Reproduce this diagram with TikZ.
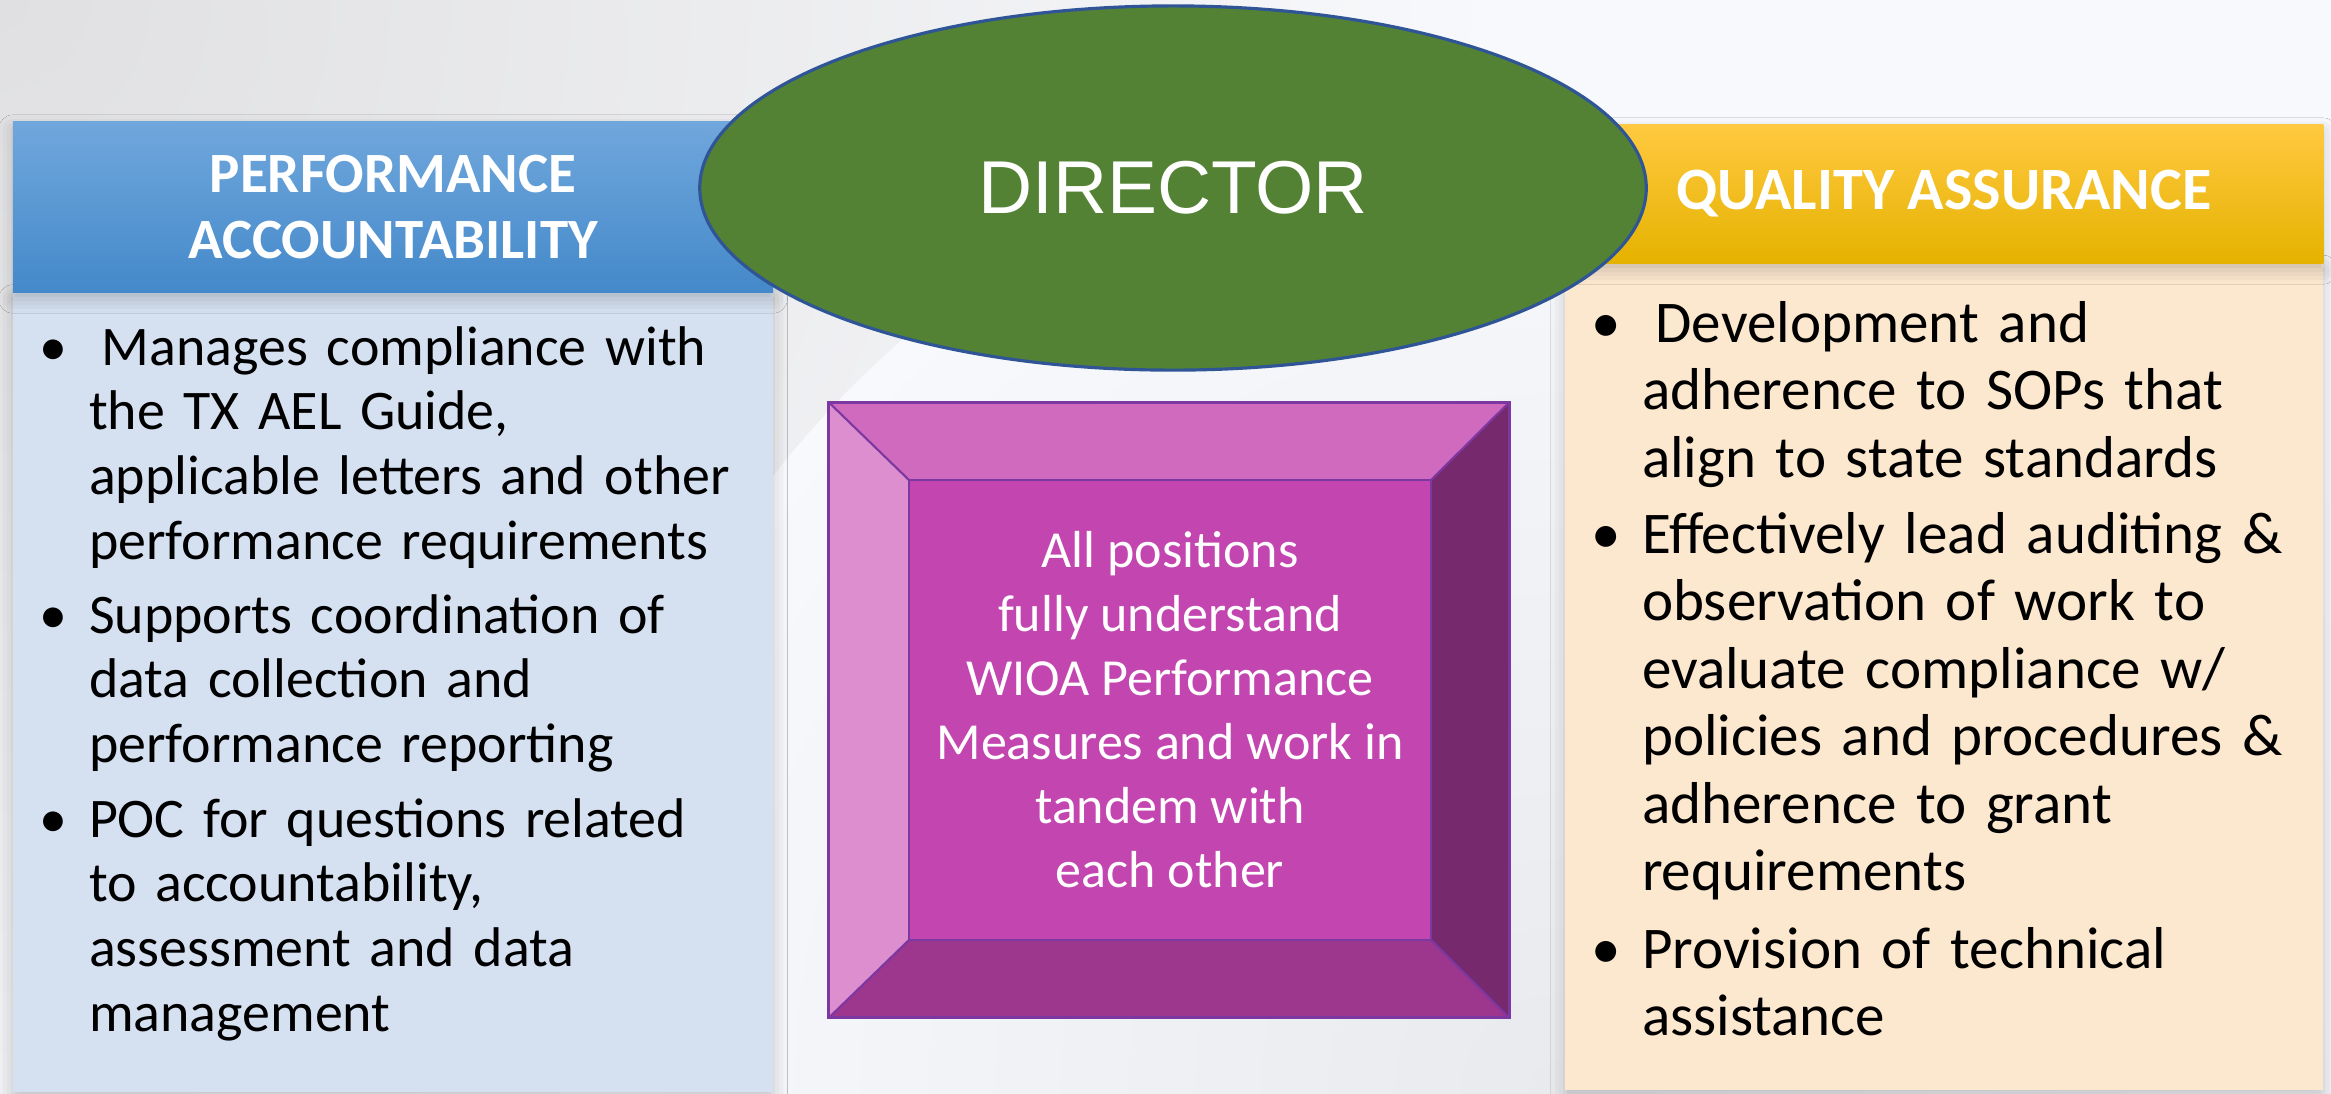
\documentclass[tikz,border=0pt]{standalone}
\usepackage{fontspec}
\setmainfont{Carlito}
\newfontfamily\arialfont{Liberation Sans}
\usetikzlibrary{shapes.geometric,shadings,shadows.blur}

\definecolor{bgcorner}{RGB}{224,224,226}
\definecolor{bgpale}{RGB}{248,249,252}
\definecolor{bglow}{RGB}{232,234,238}
\definecolor{paTop}{RGB}{112,167,220}
\definecolor{paMid}{RGB}{86,152,216}
\definecolor{paBot}{RGB}{68,137,202}
\definecolor{paBody}{RGB}{213,224,240}
\definecolor{qaTop}{RGB}{255,201,64}
\definecolor{qaMid}{RGB}{255,192,0}
\definecolor{qaBot}{RGB}{229,178,0}
\definecolor{qaBody}{RGB}{252,231,207}
\definecolor{dirGreen}{RGB}{84,130,53}
\definecolor{dirEdge}{RGB}{47,85,151}
\definecolor{plFace}{RGB}{195,69,176}
\definecolor{plTop}{RGB}{208,106,190}
\definecolor{plLeft}{RGB}{220,142,206}
\definecolor{plBottom}{RGB}{157,54,141}
\definecolor{plRight}{RGB}{118,41,108}
\definecolor{plEdge}{RGB}{125,55,160}

\tikzset{
  panel/.style={rectangle, draw=none,
    blur shadow={shadow xshift=0pt, shadow yshift=-2pt,
      shadow blur radius=4pt, shadow opacity=20}},
  header/.style={panel, text=white, align=center},
  paItem/.style={anchor=base west, text width=7cm, align=left,
    font=\fontsize{15.9}{18.4}\selectfont},
  qaItem/.style={anchor=base west, text width=7cm, align=left,
    font=\fontsize{16.8}{19.2}\selectfont},
  paDot/.style={anchor=base, font=\fontsize{15.9}{18.4}\selectfont},
  qaDot/.style={anchor=base, font=\fontsize{16.8}{19.2}\selectfont}
}

\begin{document}
\begin{tikzpicture}[x=0.01cm, y=-0.01cm,
  every node/.style={inner sep=0pt, outer sep=0pt}]

\useasboundingbox (0,0) rectangle (2331,1093);

% slide background, greyer in the top left corner
\fill[bgpale] (0,0) rectangle (2331,1093);
\begin{scope}
  \clip (0,0) rectangle (2331,1093);
  \shade[inner color=bgcorner, outer color=bgpale] (0,0) circle (1500);
  \shade[inner color=bglow, outer color=bgpale] (1560,1093) circle (1000);
\end{scope}

% ----------------------
% Side columns
% ----------------------
\node[
  panel, fill=paBody,
  minimum width=7.6cm,
  minimum height=8.0cm
] (paBody) at (393,692) {};

\node[
  panel, fill=qaBody,
  minimum width=7.58cm,
  minimum height=8.27cm
] (qaBody) at (1944,676) {};

\node[
  header,
  top color=paTop, middle color=paMid, bottom color=paBot,
  minimum width=7.6cm,
  minimum height=1.7cm,
  font=\bfseries\fontsize{16.2}{18.5}\selectfont
] (paHead) at (393,207)
{PERFORMANCE\\ACCOUNTABILITY};

\node[
  header,
  top color=qaTop, middle color=qaMid, bottom color=qaBot,
  minimum width=7.58cm,
  minimum height=1.38cm,
  font=\bfseries\fontsize{17.1}{19.5}\selectfont
] (qaHead) at (1944,194)
{QUALITY ASSURANCE};

% ----------------------
% Director
% ----------------------
\node[
  ellipse,
  fill=dirGreen, draw=dirEdge, line width=0.9pt,
  minimum width=9.46cm,
  minimum height=3.64cm,
  text=white,
  font=\arialfont\fontsize{21.3}{25}\selectfont
] (director) at (1173,188) {DIRECTOR};

% ----------------------
% Bevelled box in the middle
% ----------------------
\node[
  rectangle,
  minimum width=6.8cm,
  minimum height=6.15cm
] (frame) at (1169,710) {};

\node[
  rectangle,
  fill=plFace,
  minimum width=5.22cm,
  minimum height=4.6cm,
  text=white, align=center,
  font=\fontsize{14.8}{18.2}\selectfont
] (face) at (1170,710)
{All positions\\fully understand\\WIOA Performance\hspace*{0.23em}\\Measures and work in\\tandem with\\each other};

\fill[plTop] (frame.north west) -- (frame.north east) -- (face.north east) -- (face.north west) -- cycle;
\fill[plLeft] (frame.north west) -- (face.north west) -- (face.south west) -- (frame.south west) -- cycle;
\fill[plBottom] (frame.south west) -- (face.south west) -- (face.south east) -- (frame.south east) -- cycle;
\fill[plRight] (frame.north east) -- (frame.south east) -- (face.south east) -- (face.north east) -- cycle;

\draw[plEdge, line width=0.6pt] (frame.north west) -- (face.north west);
\draw[plEdge, line width=0.6pt] (frame.north east) -- (face.north east);
\draw[plEdge, line width=0.6pt] (frame.south west) -- (face.south west);
\draw[plEdge, line width=0.6pt] (frame.south east) -- (face.south east);
\draw[plEdge, line width=0.6pt] (face.north west) rectangle (face.south east);
\draw[plEdge, line width=0.9pt] (frame.north west) rectangle (frame.south east);

% ----------------------
% Performance accountability duties
% ----------------------
\node[paDot] (paDot1) at (53,365) {\textbullet};
\node[paItem] (paItem1) at (89,365)
{\hspace*{0.23em}Manages compliance with\\the TX AEL Guide,\\applicable letters and other\\performance requirements};

\node[paDot] (paDot2) at (53,633) {\textbullet};
\node[paItem] (paItem2) at (89,633)
{Supports coordination of\\data collection and\\performance reporting};

\node[paDot] (paDot3) at (53,837) {\textbullet};
\node[paItem] (paItem3) at (89,837)
{POC for questions related\\to accountability,\\assessment and data\\management};

% ----------------------
% Quality assurance duties
% ----------------------
\node[qaDot] (qaDot1) at (1606,342) {\textbullet};
\node[qaItem] (qaItem1) at (1642,342)
{\hspace*{0.23em}Development and\\adherence to SOPs that\\align to state standards};

\node[qaDot] (qaDot2) at (1606,553) {\textbullet};
\node[qaItem] (qaItem2) at (1642,553)
{Effectively lead auditing \&\\observation of work to\\evaluate compliance w/\\policies and procedures \&\\adherence to grant\\requirements};

\node[qaDot] (qaDot3) at (1606,968) {\textbullet};
\node[qaItem] (qaItem3) at (1642,968)
{Provision of technical\\assistance};

\end{tikzpicture}
\end{document}
